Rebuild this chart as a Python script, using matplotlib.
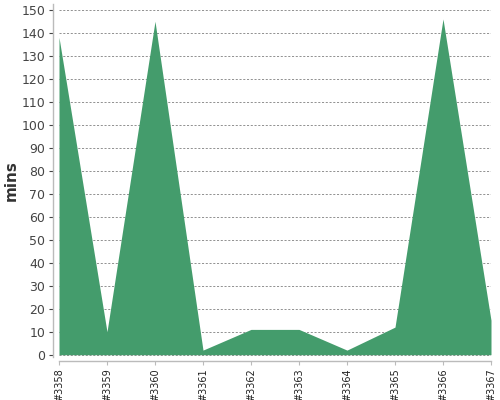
import matplotlib
matplotlib.use("Agg")
import matplotlib.pyplot as plt

builds = ["#3358", "#3359", "#3360", "#3361", "#3362", "#3363", "#3364", "#3365", "#3366", "#3367"]
mins = [138, 10, 145, 2, 11, 11, 2, 12, 146, 15]
yticks = list(range(0, 151, 10))

fig = plt.figure(figsize=(5, 4), dpi=100)
ax = fig.add_axes([59/500, (400-357)/400, 432/500, 353/400])
x = list(range(len(builds)))
ax.fill_between(x, 0, mins, color="#449c6c", linewidth=0, zorder=2)
ax.set_xlim(0, len(builds) - 1)
ax.set_ylim(-1, 152.5)
ax.set_yticks(yticks)
ax.set_xticks(x)
ax.set_xticklabels(builds)
ax.tick_params(axis="y", labelsize=9, colors="#444444", length=3, width=0.8, pad=3)
ax.tick_params(axis="x", length=3, width=0.8, colors="#bbbbbb", labelcolor="#222222",
               pad=2, labelsize=7, labelrotation=90)
for t in yticks:
    ax.axhline(t, color="#808080", linestyle=(0, (2.5, 2)), linewidth=0.6, zorder=1)
for s in ["top", "right"]:
    ax.spines[s].set_visible(False)
ax.spines["left"].set_position(("outward", 4))
ax.spines["bottom"].set_position(("outward", 3))
for s in ["left", "bottom"]:
    ax.spines[s].set_color("#bbbbbb")
    ax.spines[s].set_linewidth(1.0)
ax.set_ylabel("mins", fontsize=11, fontweight="bold", color="#333333")
ax.yaxis.set_label_coords(-0.093, 0.5)
fig.savefig("out.png", dpi=100)
